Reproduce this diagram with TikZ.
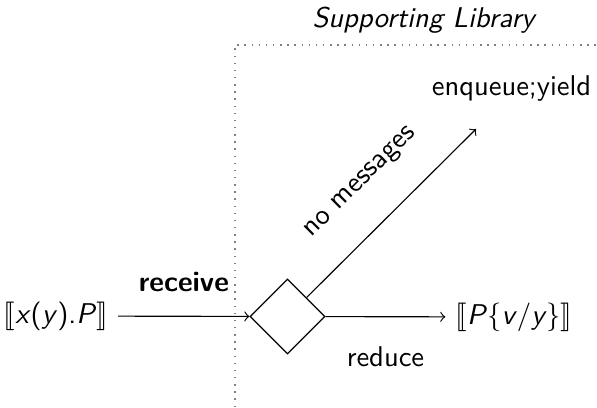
\documentclass[tikz,border=0pt]{standalone}
\usepackage{stmaryrd}
\usetikzlibrary{shapes.geometric}
\newcommand{\mvar}[1]{\textsl{#1}}
\begin{document}
\begin{tikzpicture}[x=0.35pt,y=-0.35pt,
  every node/.style={font=\sffamily},
  libline/.style={dotted,gray,line width=0.5pt},
  choice/.style={draw,diamond,shape aspect=1,inner sep=0pt,minimum width=26.25pt,minimum height=26.25pt},
  conn/.style={->}]
\useasboundingbox (0,0) rectangle (597,407);
% supporting library boundary
\coordinate (corner) at (235,45);
\coordinate (bottom) at (235,407);
\coordinate (right) at (597,45);
\draw[libline] (bottom) -- (corner) -- (right);
\node (title) at (423.5,20) {\itshape Supporting Library};
% nodes
\node (recv) at (56,316) {$\llbracket$\mvar{x}(\mvar{y}).\mvar{P}$\rrbracket$};
\node[choice] (d) at (287.5,316.5) {};
\node (res) at (514,317) {$\llbracket$\mvar{P}$\{$\mvar{v}/\mvar{y}$\}$$\rrbracket$};
\node (enq) at (511.5,89) {enqueue;yield};
\coordinate (tip) at (476,129);
% connectors
\draw[conn] (recv) -- node[midway,above=5pt] {\bfseries receive} (d);
\draw[conn] (d) -- node[midway,below=7pt] {reduce} (res);
\draw[conn] (d) -- node[midway,sloped,above=8pt] {no messages} (tip);
\end{tikzpicture}
\end{document}
